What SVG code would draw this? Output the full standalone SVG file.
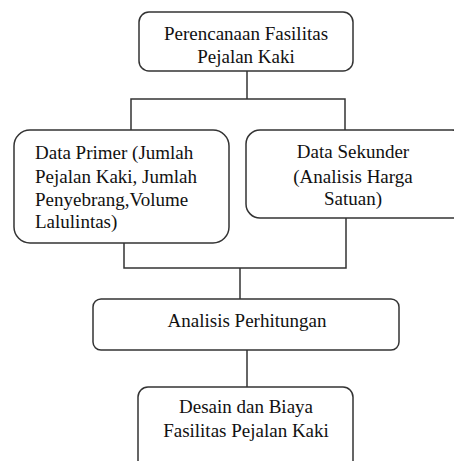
<svg xmlns="http://www.w3.org/2000/svg" width="454" height="461" viewBox="0 0 454 461">
<style>
.box{fill:#fff;stroke:#333;stroke-width:1.5}
.ln{fill:none;stroke:#333;stroke-width:1.5}
text{font-family:"Liberation Serif","Times New Roman",serif;font-size:19px;fill:#111}
.c{text-anchor:middle}
</style>
<rect width="454" height="461" fill="#fff"/>
<g id="connectors">
<polyline class="ln" points="247,71 247,99"/>
<polyline class="ln" points="131,130 131,99 345,99 345,130"/>
<polyline class="ln" points="124,243 124,268 346,268 346,218"/>
<polyline class="ln" points="240,268 240,299"/>
<polyline class="ln" points="247,350 247,387"/>
</g>
<g id="n1">
<rect class="box" x="139" y="12" width="214" height="59" rx="10"/>
<text class="c" x="246" y="40">Perencanaan Fasilitas</text>
<text class="c" x="246" y="63">Pejalan Kaki</text>
</g>
<g id="n2">
<rect class="box" x="14" y="130" width="215" height="113" rx="16"/>
<text x="35" y="159">Data Primer (Jumlah</text>
<text x="35" y="183">Pejalan Kaki, Jumlah</text>
<text x="35" y="206">Penyebrang,Volume</text>
<text x="35" y="228">Lalulintas)</text>
</g>
<g id="n3">
<rect class="box" x="246" y="130" width="220" height="88" rx="14"/>
<text class="c" x="353" y="158">Data Sekunder</text>
<text class="c" x="353" y="183">(Analisis Harga</text>
<text class="c" x="353" y="205">Satuan)</text>
</g>
<g id="n4">
<rect class="box" x="93" y="299" width="306" height="51" rx="8"/>
<text class="c" x="247" y="327">Analisis Perhitungan</text>
</g>
<g id="n5">
<rect class="box" x="138" y="387" width="215" height="84" rx="10"/>
<text class="c" x="246" y="413">Desain dan Biaya</text>
<text class="c" x="246" y="437">Fasilitas Pejalan Kaki</text>
</g>
</svg>
